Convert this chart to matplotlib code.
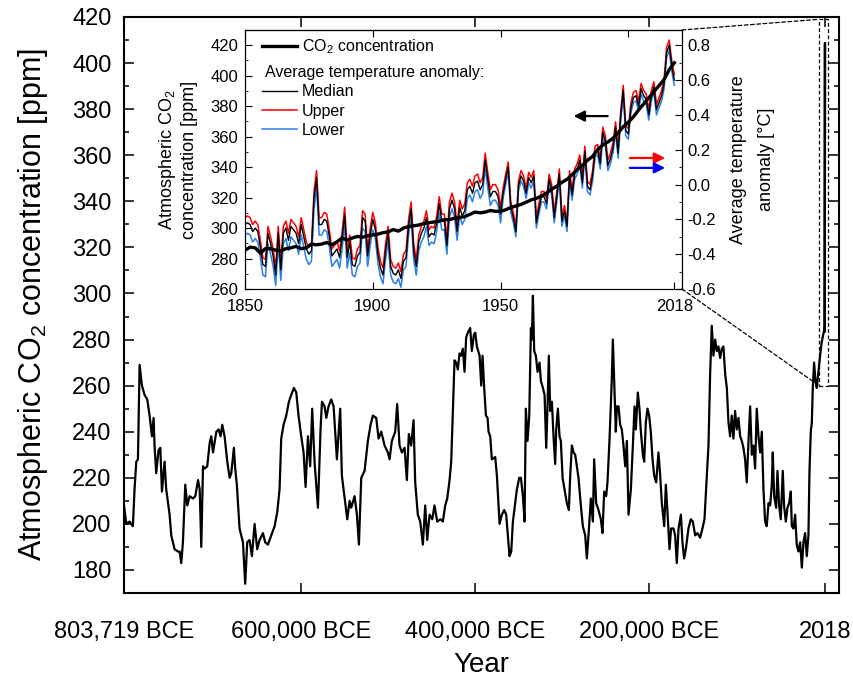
import numpy as np
import matplotlib
matplotlib.use("Agg")
import matplotlib.pyplot as plt
from matplotlib.patches import Rectangle, ConnectionPatch
from matplotlib.ticker import MultipleLocator
from matplotlib.lines import Line2D

plt.rcParams['font.family'] = ['Liberation Sans', 'DejaVu Sans']
plt.rcParams['mathtext.fontset'] = 'custom'
plt.rcParams['mathtext.rm'] = 'Liberation Sans'
plt.rcParams['mathtext.it'] = 'Liberation Sans:italic'
plt.rcParams['mathtext.default'] = 'regular'

# ice-core CO2 record, age in kyr (negative = BCE), ppm
paleo_kyr = [-803.7, -801.1, -797.3, -793.5, -791.6, -789.6, -787.7, -785.8, -783.1, -780.1,
             -777.0, -774.3, -771.6, -769.7, -768.6, -766.7, -764.0, -762.0, -760.1, -757.1,
             -755.2, -751.3, -749.4, -745.6, -741.8, -739.8, -737.9, -736.0, -733.3, -731.0,
             -728.3, -724.5, -721.8, -718.6, -716.7, -714.9, -712.9, -711.0, -708.0, -705.3,
             -703.4, -701.4, -697.6, -694.9, -692.7, -690.8, -688.1, -685.0, -682.3, -680.4,
             -677.4, -675.9, -674.0, -670.9, -667.0, -664.4, -662.1, -659.4, -656.7, -653.6,
             -650.6, -647.9, -644.0, -641.4, -638.3, -634.5, -630.6, -627.6, -624.9, -623.0,
             -620.3, -617.2, -614.2, -611.5, -608.4, -605.7, -603.1, -600.0, -597.3, -595.0,
             -592.3, -589.7, -587.4, -584.7, -580.8, -577.8, -576.2, -573.2, -571.2, -568.6,
             -565.5, -562.8, -559.0, -555.2, -553.3, -549.4, -547.1, -544.4, -542.5, -538.7,
             -536.0, -533.7, -531.0, -527.2, -523.4, -520.3, -517.6, -513.8, -511.1, -508.0,
             -504.2, -500.4, -498.5, -495.8, -492.0, -489.7, -487.0, -484.3, -481.2, -478.6,
             -476.3, -473.6, -470.9, -469.0, -466.0, -463.2, -460.2, -457.5, -455.2, -452.5,
             -449.4, -446.8, -443.7, -439.9, -437.2, -434.5, -432.2, -429.5, -427.6, -425.7,
             -423.8, -421.9, -420.0, -418.0, -416.1, -414.2, -412.3, -410.4, -408.5, -405.8,
             -403.9, -401.6, -400.0, -398.1, -395.0, -393.1, -391.6, -389.7, -387.7, -385.8,
             -384.7, -382.8, -380.9, -377.0, -375.1, -372.0, -369.4, -366.7, -364.4, -362.5,
             -360.6, -358.6, -356.7, -354.0, -352.1, -349.4, -347.5, -345.2, -343.3, -341.8,
             -339.9, -337.9, -336.0, -334.9, -333.7, -332.2, -330.3, -328.4, -326.1, -324.5,
             -322.2, -320.3, -318.4, -316.9, -315.4, -313.8, -311.9, -310.0, -308.1, -306.9,
             -305.0, -303.1, -301.6, -299.6, -297.4, -294.7, -292.4, -290.8, -288.9, -287.0,
             -285.1, -283.2, -281.3, -278.6, -276.3, -273.6, -271.7, -269.8, -267.1, -264.8,
             -263.3, -261.0, -258.3, -255.6, -253.7, -251.8, -249.5, -248.0, -245.7, -243.0,
             -241.8, -240.3, -238.4, -237.2, -235.3, -233.4, -231.5, -229.6, -227.6, -225.7,
             -223.8, -221.1, -218.8, -216.9, -215.4, -213.1, -211.2, -209.6, -207.3, -205.8,
             -203.9, -202.0, -200.1, -198.2, -196.2, -194.3, -192.0, -189.4, -187.4, -185.5,
             -182.8, -180.9, -179.0, -176.7, -174.8, -172.1, -170.2, -168.3, -166.3, -163.6,
             -161.8, -159.9, -157.9, -154.9, -152.2, -149.9, -147.2, -144.5, -141.5, -138.8,
             -136.5, -133.8, -131.9, -130.0, -128.1, -126.2, -124.2, -122.3, -120.4, -118.5,
             -116.6, -114.7, -112.7, -110.8, -108.9, -107.0, -105.1, -103.2, -101.3, -99.3,
             -97.4, -95.5, -93.6, -91.7, -89.8, -87.9, -85.9, -84.0, -82.1, -80.2,
             -78.3, -76.4, -74.4, -72.5, -70.6, -68.7, -66.8, -64.9, -62.9, -61.0,
             -59.1, -58.0, -56.4, -54.1, -52.6, -50.7, -48.8, -46.5, -45.0, -43.0,
             -41.1, -39.2, -37.3, -36.1, -34.2, -32.3, -30.4, -28.5, -26.5, -24.6,
             -22.7, -20.8, -18.9, -17.0, -15.8, -14.3, -13.1, -12.0, -10.5, -8.9,
             -7.4, -5.5, -3.6, -1.7]
paleo_ppm = [208, 200, 201, 199, 215, 227, 228, 269, 260, 256,
             254, 247, 238, 246, 234, 222, 232, 233, 214, 227,
             215, 204, 195, 189, 188, 188, 183, 192, 217, 208,
             212, 211, 212, 219, 215, 190, 225, 224, 225, 235,
             238, 231, 240, 241, 238, 243, 238, 227, 220, 222,
             233, 224, 217, 198, 192, 174, 192, 193, 186, 200,
             189, 193, 196, 192, 191, 195, 199, 205, 215, 237,
             243, 247, 253, 256, 259, 257, 247, 238, 231, 216,
             238, 225, 250, 227, 207, 241, 253, 251, 246, 251,
             254, 251, 228, 250, 221, 209, 202, 210, 207, 212,
             204, 191, 220, 223, 236, 243, 247, 246, 237, 240,
             234, 231, 228, 236, 240, 252, 234, 231, 233, 219,
             239, 234, 245, 218, 204, 201, 191, 208, 193, 204,
             202, 208, 201, 202, 201, 208, 211, 219, 227, 249,
             271, 270, 267, 274, 273, 276, 266, 281, 283, 285,
             275, 282, 283, 277, 273, 260, 273, 259, 247, 246,
             240, 238, 228, 229, 221, 200, 204, 206, 204, 195,
             186, 188, 201, 209, 215, 220, 220, 212, 201, 250,
             236, 247, 285, 280, 299, 275, 273, 266, 270, 262,
             259, 256, 233, 251, 273, 249, 253, 238, 226, 241,
             250, 238, 236, 220, 215, 209, 206, 221, 234, 231,
             230, 225, 220, 208, 199, 195, 185, 195, 211, 201,
             228, 209, 206, 202, 196, 214, 212, 218, 236, 263,
             280, 262, 240, 251, 251, 243, 241, 234, 225, 236,
             204, 215, 234, 251, 241, 257, 250, 240, 230, 227,
             244, 250, 247, 240, 228, 221, 218, 231, 221, 209,
             199, 217, 205, 189, 198, 198, 195, 183, 198, 204,
             192, 185, 189, 198, 202, 201, 195, 196, 194, 198,
             202, 221, 234, 265, 286, 273, 280, 275, 277, 272,
             276, 277, 265, 259, 244, 238, 247, 237, 249, 241,
             246, 238, 236, 233, 228, 218, 236, 251, 230, 234,
             224, 250, 238, 231, 240, 215, 201, 199, 209, 208,
             217, 231, 212, 207, 223, 208, 202, 223, 208, 201,
             207, 209, 214, 199, 198, 204, 191, 188, 192, 181,
             192, 196, 186, 195, 223, 240, 244, 259, 270, 262,
             259, 266, 273, 279]

# industrial era CO2 (inset), ppm
co2_year = [1850, 1852, 1854, 1856, 1858, 1860, 1862, 1864, 1866, 1868, 1870, 1872, 1874, 1876,
            1878, 1880, 1882, 1884, 1886, 1888, 1890, 1892, 1894, 1896, 1898, 1900, 1902, 1904,
            1906, 1908, 1910, 1912, 1914, 1916, 1918, 1920, 1922, 1924, 1926, 1928, 1930, 1932,
            1934, 1936, 1938, 1940, 1942, 1944, 1946, 1948, 1950, 1952, 1954, 1956, 1958, 1960,
            1962, 1964, 1966, 1968, 1970, 1972, 1974, 1976, 1978, 1980, 1982, 1984, 1986, 1988,
            1990, 1992, 1994, 1996, 1998, 2000, 2002, 2004, 2006, 2008, 2010, 2012, 2014, 2016, 2018]
co2_ppm = [285.5, 287.5, 287.0, 283.5, 286.5, 286.5, 285.5, 285.0, 286.5, 287.0, 288.0, 286.5, 287.0, 289.5,
           289.0, 289.5, 290.5, 289.0, 291.0, 293.5, 292.0, 293.5, 294.5, 294.0, 295.0, 295.5, 296.0, 297.0,
           297.5, 299.0, 298.0, 300.0, 301.0, 301.5, 302.0, 303.0, 303.5, 304.0, 304.5, 305.5, 305.5, 306.5,
           307.0, 307.5, 309.0, 310.5, 310.0, 310.5, 311.5, 311.0, 311.0, 312.0, 313.5, 314.5, 315.5, 317.0,
           318.5, 319.5, 321.0, 323.0, 325.5, 327.5, 330.0, 332.0, 335.0, 338.5, 341.0, 344.5, 347.0, 351.5,
           354.5, 356.5, 359.0, 362.5, 366.5, 369.5, 373.0, 377.5, 381.5, 385.5, 389.5, 393.5, 397.5, 404.0, 408.5]

# temperature anomaly 1850-2018, degC
temp_year = list(range(1850, 2019))
temp_median = [-0.23, -0.22, -0.23, -0.27, -0.25, -0.27, -0.36, -0.46, -0.47, -0.28,
               -0.34, -0.41, -0.52, -0.28, -0.49, -0.28, -0.25, -0.32, -0.24, -0.26,
               -0.28, -0.34, -0.23, -0.30, -0.37, -0.40, -0.38, -0.08, 0.04, -0.23,
               -0.23, -0.20, -0.21, -0.30, -0.41, -0.39, -0.37, -0.42, -0.31, -0.17,
               -0.42, -0.33, -0.46, -0.47, -0.41, -0.39, -0.19, -0.21, -0.41, -0.29,
               -0.20, -0.26, -0.40, -0.48, -0.52, -0.38, -0.28, -0.47, -0.51, -0.52,
               -0.49, -0.54, -0.44, -0.42, -0.24, -0.14, -0.38, -0.47, -0.33, -0.28,
               -0.25, -0.19, -0.30, -0.28, -0.29, -0.22, -0.11, -0.21, -0.21, -0.35,
               -0.14, -0.09, -0.14, -0.27, -0.13, -0.18, -0.15, -0.03, -0.01, -0.05,
               0.01, 0.02, -0.03, 0.00, 0.14, 0.03, -0.07, -0.04, -0.04, -0.07,
               -0.17, -0.05, 0.03, 0.10, -0.13, -0.19, -0.27, -0.01, 0.05, 0.02,
               -0.05, 0.04, 0.01, 0.05, -0.22, -0.14, -0.07, -0.07, -0.11, 0.03,
               -0.03, -0.19, -0.07, 0.06, -0.21, -0.15, -0.24, 0.05, -0.06, 0.06,
               0.09, 0.14, 0.01, 0.19, -0.01, -0.03, 0.05, 0.19, 0.20, 0.12,
               0.30, 0.25, 0.11, 0.15, 0.21, 0.33, 0.18, 0.39, 0.54, 0.31,
               0.29, 0.44, 0.50, 0.51, 0.45, 0.55, 0.51, 0.49, 0.40, 0.51,
               0.56, 0.43, 0.47, 0.51, 0.58, 0.76, 0.80, 0.68, 0.60]
temp_upper = [-0.19, -0.18, -0.19, -0.23, -0.21, -0.23, -0.32, -0.42, -0.43, -0.24,
              -0.30, -0.37, -0.48, -0.24, -0.45, -0.24, -0.21, -0.28, -0.20, -0.22,
              -0.24, -0.30, -0.19, -0.26, -0.33, -0.36, -0.34, -0.04, 0.08, -0.19,
              -0.19, -0.16, -0.17, -0.26, -0.37, -0.35, -0.33, -0.38, -0.27, -0.13,
              -0.38, -0.29, -0.42, -0.43, -0.37, -0.35, -0.15, -0.17, -0.37, -0.25,
              -0.16, -0.22, -0.36, -0.44, -0.48, -0.34, -0.24, -0.43, -0.47, -0.48,
              -0.45, -0.50, -0.40, -0.38, -0.20, -0.10, -0.34, -0.43, -0.29, -0.24,
              -0.21, -0.15, -0.26, -0.24, -0.25, -0.18, -0.07, -0.17, -0.17, -0.31,
              -0.10, -0.05, -0.10, -0.23, -0.09, -0.14, -0.11, 0.01, 0.03, -0.01,
              0.05, 0.06, 0.01, 0.04, 0.18, 0.07, -0.03, 0.00, 0.00, -0.03,
              -0.13, -0.02, 0.06, 0.13, -0.10, -0.16, -0.24, 0.02, 0.08, 0.05,
              -0.02, 0.07, 0.04, 0.08, -0.19, -0.11, -0.04, -0.04, -0.08, 0.06,
              0.00, -0.16, -0.04, 0.09, -0.18, -0.12, -0.21, 0.08, -0.03, 0.09,
              0.12, 0.17, 0.04, 0.22, 0.02, 0.00, 0.08, 0.22, 0.23, 0.15,
              0.33, 0.28, 0.14, 0.18, 0.24, 0.36, 0.21, 0.42, 0.57, 0.34,
              0.32, 0.47, 0.53, 0.54, 0.48, 0.58, 0.54, 0.52, 0.43, 0.54,
              0.59, 0.46, 0.50, 0.54, 0.61, 0.79, 0.83, 0.71, 0.63]
temp_lower = [-0.29, -0.28, -0.29, -0.33, -0.31, -0.33, -0.42, -0.52, -0.53, -0.34,
              -0.40, -0.47, -0.58, -0.34, -0.55, -0.34, -0.31, -0.38, -0.30, -0.32,
              -0.34, -0.40, -0.29, -0.36, -0.43, -0.46, -0.44, -0.14, -0.02, -0.29,
              -0.29, -0.26, -0.27, -0.36, -0.47, -0.45, -0.43, -0.48, -0.37, -0.23,
              -0.48, -0.39, -0.52, -0.53, -0.47, -0.45, -0.25, -0.27, -0.47, -0.35,
              -0.26, -0.31, -0.45, -0.53, -0.57, -0.43, -0.33, -0.52, -0.56, -0.57,
              -0.54, -0.59, -0.49, -0.47, -0.29, -0.19, -0.43, -0.52, -0.38, -0.33,
              -0.30, -0.24, -0.35, -0.33, -0.34, -0.27, -0.16, -0.26, -0.26, -0.40,
              -0.19, -0.14, -0.19, -0.32, -0.18, -0.23, -0.20, -0.08, -0.06, -0.10,
              -0.04, -0.03, -0.08, -0.05, 0.09, -0.02, -0.12, -0.09, -0.09, -0.12,
              -0.22, -0.08, 0.00, 0.07, -0.16, -0.22, -0.30, -0.04, 0.02, -0.01,
              -0.08, 0.01, -0.02, 0.02, -0.25, -0.17, -0.10, -0.10, -0.14, 0.00,
              -0.06, -0.22, -0.10, 0.03, -0.24, -0.18, -0.27, 0.02, -0.09, 0.03,
              0.06, 0.11, -0.02, 0.16, -0.04, -0.06, 0.02, 0.16, 0.17, 0.09,
              0.27, 0.22, 0.08, 0.12, 0.18, 0.30, 0.15, 0.36, 0.51, 0.28,
              0.26, 0.41, 0.47, 0.48, 0.42, 0.52, 0.48, 0.46, 0.37, 0.48,
              0.53, 0.40, 0.44, 0.48, 0.55, 0.73, 0.77, 0.65, 0.57]

main_ticks = [-803719, -600000, -400000, -200000, 2018]
main_ticklabels = ['803,719 BCE', '600,000 BCE', '400,000 BCE', '200,000 BCE', '2018']

fig = plt.figure(figsize=(8.54, 6.77), dpi=100)

# ---- main axes
ax = fig.add_axes([0.1452, 0.1241, 0.8372, 0.8508])
main_x = np.concatenate([np.array(paleo_kyr) * 1000, co2_year])
main_y = np.concatenate([paleo_ppm, co2_ppm])
ax.plot(main_x, main_y, color='black', lw=1.6)
ax.set_xlim(-803719, 18100)
ax.set_ylim(170, 420)
ax.set_xticks(main_ticks)
ax.set_xticklabels(main_ticklabels)
ax.set_yticks(np.arange(180, 421, 20))
ax.yaxis.set_minor_locator(MultipleLocator(10))
ax.tick_params(which='both', direction='in', top=True, right=True, width=1.1)
ax.tick_params(which='major', length=7, labelsize=17)
ax.tick_params(axis='x', pad=20)
ax.tick_params(axis='y', pad=9)
ax.tick_params(which='minor', length=3.5)
for s in ax.spines.values():
    s.set_linewidth(1.5)
ax.set_xlabel('Year', fontsize=20, labelpad=7)
ax.set_ylabel('Atmospheric CO$_2$ concentration [ppm]', fontsize=22, labelpad=16)

# zoom box around the industrial era
ax.add_patch(Rectangle((-4900, 260), 10300, 159, fill=False, ls=(0, (3, 2)), lw=0.9, color='black'))

# ---- inset
ax_in = fig.add_axes([0.2869, 0.5731, 0.5117, 0.3826])
ax_t = ax_in.twinx()
ax_in.set_zorder(3)
ax_t.set_zorder(2)
ax_in.patch.set_visible(False)
ax_t.patch.set_facecolor('white')

ax_t.plot(temp_year, temp_upper, color='#ff0000', lw=1.1)
ax_t.plot(temp_year, temp_lower, color='#2b7de9', lw=1.1)
ax_t.plot(temp_year, temp_median, color='black', lw=1.0)
ax_t.set_ylim(-0.6, 0.8875)
ax_t.set_yticks(np.arange(-0.6, 0.81, 0.2))
ax_t.set_yticklabels(['%.1f' % v for v in np.arange(-0.6, 0.81, 0.2)])
ax_t.yaxis.set_minor_locator(MultipleLocator(0.1))
ax_t.tick_params(which='both', direction='in', labelsize=12, pad=4)
ax_t.tick_params(which='major', length=5)
ax_t.tick_params(which='minor', length=2.5)
ax_t.set_ylabel('Average temperature\nanomaly [°C]', fontsize=13, rotation=90,
                labelpad=10, linespacing=1.85)

co2_line, = ax_in.plot(co2_year, co2_ppm, color='black', lw=2.4)
ax_in.set_xlim(1850, 2021)
ax_in.set_ylim(260, 430)
ax_in.set_xticks([1850, 1900, 1950, 2018])
ax_in.set_yticks(np.arange(260, 421, 20))
ax_in.yaxis.set_minor_locator(MultipleLocator(10))
ax_in.tick_params(which='both', direction='in', labelsize=12)
ax_in.tick_params(axis='y', pad=5)
ax_in.tick_params(axis='x', pad=7)
ax_in.tick_params(which='major', length=5)
ax_in.tick_params(which='minor', length=2.5)
ax_in.set_ylabel('Atmospheric CO$_2$\nconcentration [ppm]', fontsize=13, labelpad=9)
sec = ax_in.secondary_xaxis('top')
sec.set_xticks([1850, 1900, 1950, 2000])
sec.tick_params(direction='in', length=5, labeltop=False)

# arrows pointing to the axes
ax_in.annotate('', xy=(1977.5, 373.5), xytext=(1993, 373.5),
               arrowprops=dict(arrowstyle='-|>', color='black', lw=1.6, mutation_scale=16))
ax_in.annotate('', xy=(2015.5, 346), xytext=(1999.5, 346),
               arrowprops=dict(arrowstyle='-|>', color='#ff0000', lw=1.6, mutation_scale=16))
ax_in.annotate('', xy=(2015.5, 339.5), xytext=(1999.5, 339.5),
               arrowprops=dict(arrowstyle='-|>', color='#0000ff', lw=1.6, mutation_scale=16))

# legend
leg1 = ax_in.legend([co2_line], ['CO$_2$ concentration'], loc='upper left',
                    bbox_to_anchor=(0.038, 0.972), frameon=False, fontsize=11.5,
                    handlelength=2.2, handletextpad=0.3, borderpad=0, borderaxespad=0)
ax_in.add_artist(leg1)
ax_in.text(0.045, 0.835, 'Average temperature anomaly:', transform=ax_in.transAxes,
           fontsize=11.5, va='center', ha='left')
temp_handles = [Line2D([], [], color='black', lw=1.0), Line2D([], [], color='#ff0000', lw=1.1),
                Line2D([], [], color='#2b7de9', lw=1.1)]
ax_in.legend(temp_handles, ['Median', 'Upper', 'Lower'], loc='upper left',
             bbox_to_anchor=(0.038, 0.79), frameon=False, fontsize=11.5,
             handlelength=2.2, handletextpad=0.3, borderpad=0, borderaxespad=0, labelspacing=0.26)

# dashed connectors from inset to zoom box
for ya, yb in [(1, 419), (0, 260)]:
    con = ConnectionPatch(xyA=(1, ya), coordsA=ax_in.transAxes, xyB=(-4900, yb), coordsB=ax.transData,
                          ls=(0, (3, 2)), lw=0.9, color='black')
    fig.add_artist(con)

fig.savefig('out.png', dpi=100)
